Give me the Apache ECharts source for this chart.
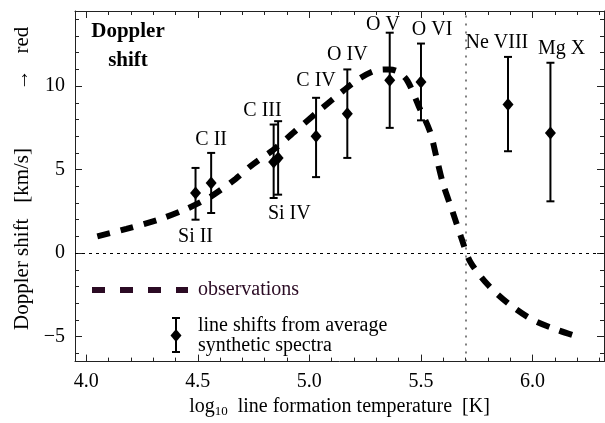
<!DOCTYPE html>
<html>
<head>
<meta charset="utf-8">
<script src="https://cdn.jsdelivr.net/npm/echarts@6/dist/echarts.min.js"></script>
<style>
  html, body { margin: 0; padding: 0; background: #fff; }
  #chart { width: 605px; height: 423px; }
</style>
</head>
<body>
<div id="chart"></div>
<script>
// observed Doppler shift curve (dashed)
var curveX = [4.05, 4.18, 4.33, 4.45, 4.56, 4.67, 4.75, 4.84, 4.94, 5.05, 5.15, 5.23, 5.30, 5.36, 5.40, 5.44, 5.49, 5.54, 5.57, 5.60, 5.64, 5.68, 5.72, 5.80, 5.89, 6.00, 6.11, 6.20];
var curveY = [1.0, 1.45, 2.03, 2.65, 3.4, 4.45, 5.35, 6.2, 7.35, 8.6, 9.7, 10.5, 10.95, 11.0, 10.85, 10.3, 8.8, 7.3, 5.7, 4.1, 2.55, 0.95, -0.5, -1.9, -3.0, -4.0, -4.6, -5.0];

// synthetic line shifts with error bars
var lineNames = ['Si II', 'C II', 'C III', 'Si IV', 'C IV', 'O IV', 'O V', 'O VI', 'Ne VIII', 'Mg X'];
var lineTemp = [4.49, 4.56, 4.84, 4.86, 5.03, 5.17, 5.36, 5.50, 5.89, 6.08];
var lineShift = [3.6, 4.2, 5.45, 5.7, 7.0, 8.35, 10.35, 10.25, 8.9, 7.2];
var errLow = [2.0, 2.4, 3.3, 3.5, 4.55, 5.7, 7.5, 7.95, 6.1, 3.1];
var errHigh = [5.1, 6.0, 7.7, 7.9, 9.3, 11.0, 13.2, 12.55, 11.75, 11.4];
// where the ion names are written
var labelX = [4.49, 4.56, 4.79, 4.91, 5.03, 5.17, 5.33, 5.55, 5.84, 6.13];
var labelY = [0.95, 6.8, 8.55, 2.35, 10.35, 11.9, 13.7, 13.4, 12.6, 12.25];

// ticks
var xMajor = [4.0, 4.5, 5.0, 5.5, 6.0];
var xMinor = [];
for (var i = 40; i <= 63; i++) xMinor.push(i / 10);
var yMajor = [-5, 0, 5, 10];
var yMinor = [];
for (var j = -6; j <= 14; j++) yMinor.push(j);

var FONT = 'Liberation Serif';
var xMin = 3.95, xMax = 6.32, yMin = -6.5, yMax = 14.5;

var chart = echarts.init(document.getElementById('chart'));

function tickAxis(pos, values, len, showLine) {
  var horiz = pos === 'bottom' || pos === 'top';
  return {
    type: 'value', position: pos, min: horiz ? xMin : yMin, max: horiz ? xMax : yMax,
    axisLine: { show: showLine, onZero: false, lineStyle: { color: '#222', width: 1 } },
    axisTick: { show: true, inside: true, length: len, customValues: values, lineStyle: { color: '#222', width: 1 } },
    axisLabel: { show: false },
    splitLine: { show: false }
  };
}

var option = {
  animation: false,
  grid: { left: 75, right: 1, top: 11, bottom: 57 },
  xAxis: [
    {
      type: 'value', position: 'bottom', min: xMin, max: xMax,
      axisLine: { show: true, onZero: false, lineStyle: { color: '#222', width: 1 } },
      axisTick: { show: true, inside: true, length: 7, customValues: xMajor, lineStyle: { color: '#222' } },
      axisLabel: {
        customValues: xMajor, margin: 10, color: '#000', fontFamily: FONT, fontSize: 20,
        formatter: function (v) { return v.toFixed(1); }
      },
      splitLine: { show: false },
      name: '{a|log}{s|10}{a|  line formation temperature  [K]}',
      nameLocation: 'middle', nameGap: 33,
      nameTextStyle: {
        rich: {
          a: { fontFamily: FONT, fontSize: 20, color: '#000' },
          s: { fontFamily: FONT, fontSize: 13, color: '#000', padding: [10, 0, 0, 0] }
        }
      }
    },
    tickAxis('bottom', xMinor, 4, false),
    tickAxis('top', xMajor, 7, true),
    tickAxis('top', xMinor, 4, false)
  ],
  yAxis: [
    {
      type: 'value', position: 'left', min: yMin, max: yMax,
      axisLine: { show: true, onZero: false, lineStyle: { color: '#222', width: 1 } },
      axisTick: { show: true, inside: true, length: 7, customValues: yMajor, lineStyle: { color: '#222' } },
      axisLabel: {
        customValues: yMajor, margin: 10, color: '#000', fontFamily: FONT, fontSize: 20,
        formatter: function (v) { return String(v).replace('-', '\u2212'); }
      },
      splitLine: { show: false },
      name: 'Doppler shift\u2002 [km/s]\u2003\u2003\u2002 \u2192\u2002 red',
      nameLocation: 'middle', nameGap: 35, nameRotate: 90,
      nameTextStyle: { fontFamily: FONT, fontSize: 21, color: '#000', padding: [0, 0, 0, 16] }
    },
    tickAxis('left', yMinor, 4, false),
    tickAxis('right', yMajor, 7, true),
    tickAxis('right', yMinor, 4, false)
  ],
  series: [
    {
      name: 'observations',
      type: 'line',
      data: curveX.map(function (x, k) { return [x, curveY[k]]; }),
      showSymbol: false,
      smooth: 0.3,
      lineStyle: { color: '#000', width: 6, type: [13, 11], cap: 'butt' },
      markLine: {
        silent: true, symbol: 'none', label: { show: false },
        data: [
          { yAxis: 0, lineStyle: { color: '#000', width: 1, type: [3, 4] } },
          { xAxis: 5.7, lineStyle: { color: '#555', width: 1.5, type: [2, 6] } }
        ]
      },
      z: 3
    },
    {
      name: 'error bars',
      type: 'custom',
      data: lineTemp.map(function (t, k) { return [t, errLow[k], errHigh[k]]; }),
      encode: { x: 0, y: [1, 2] },
      renderItem: function (params, api) {
        var top = api.coord([api.value(0), api.value(2)]);
        var bot = api.coord([api.value(0), api.value(1)]);
        var w = 4;
        var st = { stroke: '#000', lineWidth: 2 };
        return {
          type: 'group',
          children: [
            { type: 'line', shape: { x1: top[0], y1: top[1], x2: bot[0], y2: bot[1] }, style: st },
            { type: 'line', shape: { x1: top[0] - w, y1: top[1], x2: top[0] + w, y2: top[1] }, style: st },
            { type: 'line', shape: { x1: bot[0] - w, y1: bot[1], x2: bot[0] + w, y2: bot[1] }, style: st }
          ]
        };
      },
      z: 4
    },
    {
      name: 'line shifts',
      type: 'scatter',
      data: lineTemp.map(function (t, k) { return [t, lineShift[k]]; }),
      symbol: 'diamond',
      symbolSize: [11, 13],
      itemStyle: { color: '#000', opacity: 1 },
      z: 5
    },
    {
      name: 'ion labels',
      type: 'custom',
      data: labelX.map(function (x, k) { return [x, labelY[k]]; }),
      encode: { x: 0, y: 1 },
      renderItem: function (params, api) {
        var p = api.coord([api.value(0), api.value(1)]);
        return {
          type: 'text', x: p[0], y: p[1],
          style: {
            text: lineNames[params.dataIndex], fill: '#000',
            fontFamily: FONT, fontSize: 20, align: 'center', verticalAlign: 'middle'
          }
        };
      },
      z: 6
    }
  ],
  graphic: [
    {
      type: 'text', x: 128, y: 17,
      style: {
        text: 'Doppler\nshift', fill: '#000', fontFamily: FONT, fontSize: 21, fontWeight: 'bold',
        align: 'center', lineHeight: 29
      }
    },
    {
      type: 'line', shape: { x1: 92, y1: 290, x2: 188, y2: 290 },
      style: { stroke: '#2b0b24', lineWidth: 6, lineDash: [13, 15] }
    },
    {
      type: 'text', x: 198, y: 290,
      style: { text: 'observations', fill: '#2b0b24', fontFamily: FONT, fontSize: 20, verticalAlign: 'middle' }
    },
    {
      type: 'line', shape: { x1: 176, y1: 318, x2: 176, y2: 352 },
      style: { stroke: '#000', lineWidth: 2 }
    },
    {
      type: 'line', shape: { x1: 172, y1: 318, x2: 180, y2: 318 },
      style: { stroke: '#000', lineWidth: 2 }
    },
    {
      type: 'line', shape: { x1: 172, y1: 352, x2: 180, y2: 352 },
      style: { stroke: '#000', lineWidth: 2 }
    },
    {
      type: 'polygon', shape: { points: [[176, 329], [181.5, 335.5], [176, 342], [170.5, 335.5]] },
      style: { fill: '#000' }
    },
    {
      type: 'text', x: 198, y: 316,
      style: {
        text: 'line shifts from average\nsynthetic spectra', fill: '#000',
        fontFamily: FONT, fontSize: 20, lineHeight: 20
      }
    }
  ]
};

chart.setOption(option);
</script>
</body>
</html>
